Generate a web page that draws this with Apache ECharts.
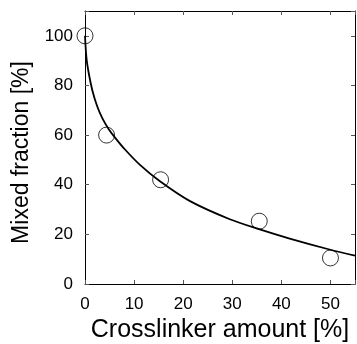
<!DOCTYPE html>
<html>
<head>
<meta charset="utf-8">
<script src="https://cdn.jsdelivr.net/npm/echarts@6/dist/echarts.min.js"></script>
<style>
  html, body { margin: 0; padding: 0; background: #fff; }
  #chart { width: 357px; height: 344px; }
</style>
</head>
<body>
<div id="chart"></div>
<script>
// measured points (crosslinker %, mixed fraction %)
const pointsX = [0, 4.4, 15.4, 35.5, 50];
const pointsY = [100, 60, 42, 25.3, 10.5];

// fitted curve
const curveX = [0, 0.3, 0.8, 1.5, 2.5, 3.6, 4.8, 6.2, 8.1, 11.2, 15.2, 21.3, 29.5, 35.6, 41.7, 49.8, 55];
const curveY = [100, 91, 84.5, 78, 71.5, 66.5, 62.5, 58.8, 54.3, 48, 41.5, 33.5, 26.1, 22, 18.3, 13.9, 11.4];

const xTicks = [0, 10, 20, 30, 40, 50];
const yTicks = [0, 20, 40, 60, 80, 100];

const FONT = 'Liberation Sans';
const chart = echarts.init(document.getElementById('chart'));

const tickStyle = { show: true, inside: true, length: 4, lineStyle: { color: '#555', width: 1 } };
const lineStyle = { show: true, onZero: false, lineStyle: { color: '#000', width: 1 } };

const option = {
    animation: false,
    grid: { left: 85, top: 11, right: 2, bottom: 60, outerBoundsMode: 'none' },
    xAxis: [
        {
            type: 'value', min: 0, max: 55, interval: 10,
            axisLine: lineStyle, axisTick: tickStyle, splitLine: { show: false },
            axisLabel: {
                color: '#000', fontFamily: FONT, fontSize: 17, margin: 12,
                formatter: v => xTicks.includes(v) ? String(v) : ''
            },
            name: 'Crosslinker amount [%]', nameLocation: 'middle', nameGap: 34,
            nameTextStyle: { color: '#000', fontFamily: FONT, fontSize: 25 }
        },
        {
            type: 'value', position: 'top', min: 0, max: 55, interval: 10,
            axisLine: lineStyle, axisTick: tickStyle, axisLabel: { show: false }, splitLine: { show: false }
        }
    ],
    yAxis: [
        {
            type: 'value', min: 0, max: 110, interval: 20,
            axisLine: lineStyle, axisTick: tickStyle, splitLine: { show: false },
            axisLabel: {
                color: '#000', fontFamily: FONT, fontSize: 17, margin: 12,
                formatter: v => yTicks.includes(v) ? String(v) : ''
            },
            name: 'Mixed fraction [%]', nameLocation: 'middle', nameGap: 52,
            nameTextStyle: { color: '#000', fontFamily: FONT, fontSize: 23, padding: [0, 10, 0, 0] }
        },
        {
            type: 'value', position: 'right', min: 0, max: 110, interval: 20,
            axisLine: lineStyle, axisTick: tickStyle, axisLabel: { show: false }, splitLine: { show: false }
        }
    ],
    series: [
        {
            type: 'line',
            data: curveX.map((x, i) => [x, curveY[i]]),
            smooth: 0.3,
            showSymbol: false,
            lineStyle: { color: '#000', width: 1.8 },
            z: 2
        },
        {
            type: 'scatter',
            data: pointsX.map((x, i) => [x, pointsY[i]]),
            symbol: 'circle',
            symbolSize: 16,
            itemStyle: { color: 'transparent', borderColor: '#000', borderWidth: 1 },
            z: 3
        }
    ]
};

chart.setOption(option);
</script>
</body>
</html>
